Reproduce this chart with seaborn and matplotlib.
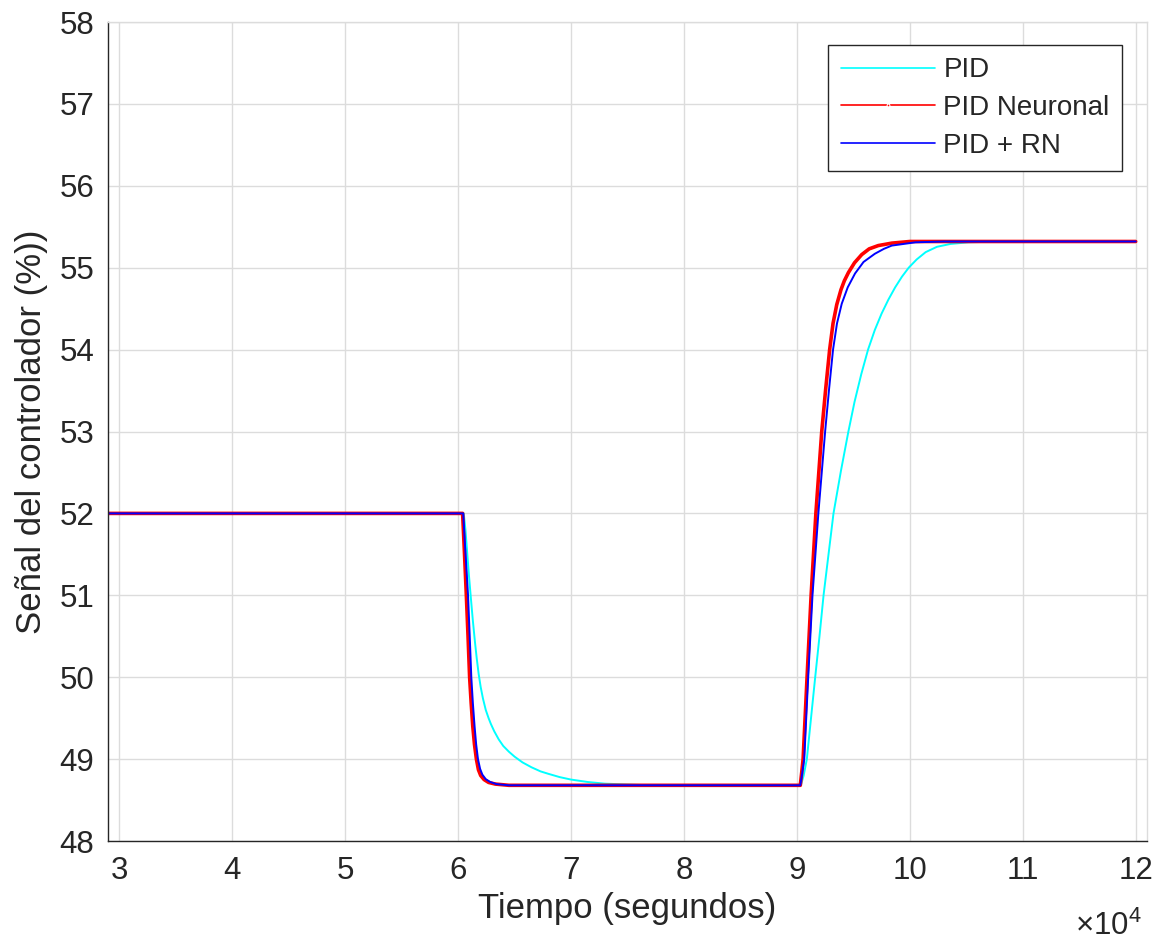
import matplotlib
matplotlib.use("Agg")
import matplotlib.pyplot as plt
import seaborn as sns
import pandas as pd
from matplotlib.ticker import FuncFormatter

# ---- data ----
t_pid = [29000, 60500, 60650, 60800, 60950, 61110, 61300, 61500, 61650, 61820, 62000,
         62200, 62450, 62700, 62900, 63200, 63600, 64000, 64500, 65000, 65700, 66500,
         67300, 68000, 69000, 70000, 71500, 73000, 75000, 77000,
         90350, 90600, 90880, 91250, 91620, 92000, 92360, 92800, 93240, 93900, 94560,
         95100, 95700, 96300, 96900, 97500, 98100, 98700, 99300, 99900, 100600,
         101400, 102400, 103600, 105200, 108000, 120000]
v_pid = [52.00, 52.00, 51.80, 51.53, 51.26, 51.00, 50.70, 50.42, 50.23, 50.04, 49.88,
         49.74, 49.60, 49.50, 49.43, 49.34, 49.24, 49.16, 49.09, 49.03, 48.96, 48.90,
         48.85, 48.82, 48.78, 48.75, 48.72, 48.70, 48.69, 48.68,
         48.68, 48.80, 49.00, 49.50, 50.00, 50.50, 51.00, 51.50, 52.00, 52.52, 53.00,
         53.36, 53.70, 54.00, 54.24, 54.44, 54.61, 54.76, 54.89, 55.00, 55.10,
         55.19, 55.255, 55.29, 55.31, 55.32, 55.32]

t_nn = [29000, 60400, 60570, 60730, 60880, 61020, 61160, 61300, 61450, 61620, 61800,
        62000, 62300, 62700, 63300, 64500,
        90300, 90420, 90550, 90900, 91260, 91680, 92200, 92550, 92900, 93200, 93530,
        93900, 94200, 94560, 95100, 95740, 96400, 97200, 98400, 100000, 120000]
v_nn = [52.00, 52.00, 51.50, 51.00, 50.50, 50.00, 49.68, 49.40, 49.18, 49.00, 48.87,
        48.80, 48.75, 48.715, 48.695, 48.68,
        48.68, 48.83, 49.00, 50.00, 51.00, 52.00, 53.00, 53.52, 54.00, 54.32, 54.55,
        54.73, 54.84, 54.94, 55.06, 55.16, 55.23, 55.27, 55.30, 55.32, 55.32]

t_rn = [29000, 60450, 60660, 60880, 61030, 61170, 61310, 61460, 61600, 61760, 61950,
        62150, 62450, 62850, 63400, 64500,
        90300, 90470, 90650, 91000, 91380, 91900, 92500, 92850, 93200, 93550, 93970,
        94500, 95150, 95900, 96900, 97700, 98400, 100500, 103000, 120000]
v_rn = [52.00, 52.00, 51.50, 51.00, 50.50, 50.00, 49.68, 49.40, 49.18, 49.00, 48.88,
        48.81, 48.755, 48.72, 48.695, 48.68,
        48.68, 48.83, 49.00, 50.00, 51.00, 52.00, 53.00, 53.52, 54.00, 54.32, 54.56,
        54.76, 54.93, 55.07, 55.17, 55.23, 55.27, 55.31, 55.32, 55.32]

labels = ["PID", "PID Neuronal", "PID + RN"]
colors = ["#00FFFF", "#FF0000", "#0000FF"]
y_ticks = list(range(48, 59))
x_ticks = [30000 + 10000 * i for i in range(10)]

sns.set_theme(style="white")
plt.rcParams["font.family"] = ["Liberation Sans", "DejaVu Sans"]
plt.rcParams["mathtext.fontset"] = "custom"
plt.rcParams["mathtext.rm"] = "Liberation Sans"
plt.rcParams["mathtext.it"] = "Liberation Sans"

fig = plt.figure(figsize=(11.59, 9.40), dpi=100)
ax = fig.add_axes([108 / 1159, 99 / 940, 1039 / 1159, 819 / 940])

dfs = [pd.DataFrame({"t": t_pid, "v": v_pid}),
       pd.DataFrame({"t": t_nn, "v": v_nn}),
       pd.DataFrame({"t": t_rn, "v": v_rn})]
widths = [1.4, 2.6, 1.4]
for df, lab, col, lw in zip(dfs, labels, colors, widths):
    sns.lineplot(data=df, x="t", y="v", color=col, lw=lw, label=lab, ax=ax,
                 estimator=None, sort=False)

ax.set_xlim(29000, 121000)
ax.set_ylim(48, 58)
ax.set_yticks(y_ticks)
ax.set_xticks(x_ticks)
ax.xaxis.set_major_formatter(FuncFormatter(lambda v, _: f"{v / 1e4:g}"))
ax.text(0.995, -0.115, r"$\times10^{4}$", transform=ax.transAxes, ha="right",
        va="baseline", fontsize=22.5, color="#262626")

ax.grid(True, color="#dcdcdc", lw=1.0)
ax.set_axisbelow(True)
for s in ["left", "bottom"]:
    ax.spines[s].set_color("#262626")
    ax.spines[s].set_linewidth(1.0)
for s in ["top", "right"]:
    ax.spines[s].set_color("#dcdcdc")
    ax.spines[s].set_linewidth(1.0)

ax.tick_params(axis="both", direction="in", length=7, width=1.0, colors="#262626",
               labelsize=22.5)
ax.tick_params(axis="x", pad=11)
ax.tick_params(axis="y", pad=10)
ax.tick_params(top=False, right=False)

ax.set_xlabel("Tiempo (segundos)", fontsize=25, color="#262626", labelpad=4)
ax.set_ylabel("Señal del controlador (%))", fontsize=25, color="#262626", labelpad=8)

leg = ax.legend(loc="upper right", bbox_to_anchor=(0.976, 0.972), fontsize=20,
                frameon=True, fancybox=False, framealpha=1, edgecolor="#262626",
                handlelength=3.4, handletextpad=0.3, labelspacing=0.42,
                borderpad=0.45, borderaxespad=0)
leg.get_frame().set_linewidth(1.0)
for i, ln in enumerate(leg.get_lines()):
    ln.set_linewidth(1.2)
    if i == 1:
        ln.set_marker(".")
        ln.set_markersize(4)

fig.savefig("out.png", dpi=100)
